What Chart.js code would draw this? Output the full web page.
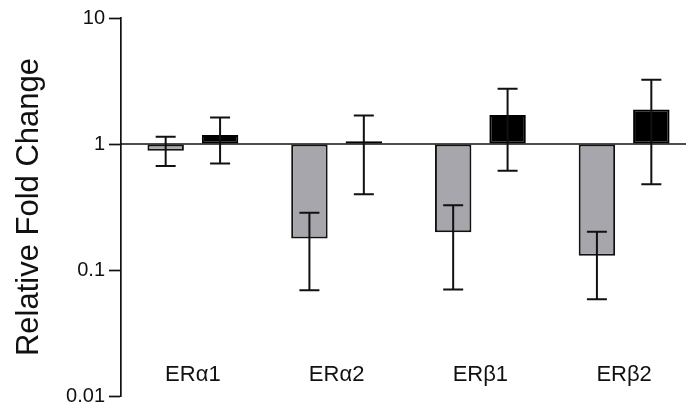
<!DOCTYPE html>
<html>
<head>
<meta charset="utf-8">
<script src="https://cdn.jsdelivr.net/npm/chart.js@4.4.1/dist/chart.umd.min.js"></script>
<style>
  html, body { margin: 0; padding: 0; background: #fff; overflow: hidden; }
  canvas { display: block; }
</style>
</head>
<body>
<canvas id="foldChart" width="696" height="406"></canvas>
<script>
const receptors = ["ERα1", "ERα2", "ERβ1", "ERβ2"];

// grey bars
const greyMean = [0.885, 0.178, 0.199, 0.130];
const greyHigh = [1.14, 0.285, 0.326, 0.201];
const greyLow = [0.668, 0.069, 0.070, 0.0585];

// black bars
const blackMean = [1.18, 1.05, 1.70, 1.88];
const blackHigh = [1.62, 1.68, 2.75, 3.24];
const blackLow = [0.70, 0.40, 0.614, 0.479];

const tickValues = [0.01, 0.1, 1, 10];

const fontFamily = "'Liberation Sans', Arial, Helvetica, sans-serif";

const errorBars = [
    { high: greyHigh, low: greyLow },
    { high: blackHigh, low: blackLow }
];

// line at fold change 1, bars hang from it
const baseLinePlugin = {
    id: "baseLine",
    beforeDatasetsDraw(chart) {
        const { ctx, chartArea, scales } = chart;
        const y = scales.y.getPixelForValue(1);
        ctx.save();
        ctx.strokeStyle = "#111";
        ctx.lineWidth = 1.7;
        ctx.beginPath();
        ctx.moveTo(chartArea.left, y);
        ctx.lineTo(chartArea.right, y);
        ctx.stroke();
        ctx.restore();
    }
};

const errorBarPlugin = {
    id: "errorBars",
    afterDatasetsDraw(chart) {
        const { ctx, scales } = chart;
        ctx.save();
        ctx.strokeStyle = "#111";
        ctx.lineWidth = 2;
        chart.data.datasets.forEach((ds, i) => {
            const meta = chart.getDatasetMeta(i);
            meta.data.forEach((bar, j) => {
                const x = bar.x;
                const yHi = scales.y.getPixelForValue(errorBars[i].high[j]);
                const yLo = scales.y.getPixelForValue(errorBars[i].low[j]);
                const half = 10;
                ctx.beginPath();
                ctx.moveTo(x, yHi);
                ctx.lineTo(x, yLo);
                ctx.moveTo(x - half, yHi);
                ctx.lineTo(x + half, yHi);
                ctx.moveTo(x - half, yLo);
                ctx.lineTo(x + half, yLo);
                ctx.stroke();
            });
        });
        ctx.restore();
    }
};

// category names sit inside the plot, above the 0.01 line
const categoryLabelPlugin = {
    id: "categoryLabels",
    afterDraw(chart) {
        const { ctx, scales } = chart;
        ctx.save();
        ctx.fillStyle = "#111";
        ctx.font = "22px " + fontFamily;
        ctx.textAlign = "center";
        ctx.textBaseline = "alphabetic";
        receptors.forEach((name, i) => {
            ctx.fillText(name, scales.x.getPixelForValue(i), scales.y.bottom - 15);
        });
        ctx.restore();
    }
};

new Chart(document.getElementById("foldChart"), {
    type: "bar",
    data: {
        labels: receptors,
        datasets: [
            {
                data: greyMean,
                base: 1,
                backgroundColor: "#a7a6ac",
                borderColor: "#111",
                borderWidth: 2,
                borderSkipped: false,
                categoryPercentage: 0.757,
                barPercentage: 0.67
            },
            {
                data: blackMean,
                base: 1,
                backgroundColor: "#000",
                borderColor: "#000",
                borderWidth: 2,
                borderSkipped: false,
                categoryPercentage: 0.757,
                barPercentage: 0.67
            }
        ]
    },
    options: {
        responsive: false,
        animation: false,
        devicePixelRatio: 1,
        layout: { padding: { top: 18, bottom: 10, left: 0, right: 0 } },
        plugins: {
            legend: { display: false },
            tooltip: { enabled: false }
        },
        scales: {
            x: {
                display: false
            },
            y: {
                type: "logarithmic",
                min: 0.01,
                max: 10,
                afterBuildTicks: scale => {
                    scale.ticks = tickValues.map(v => ({ value: v }));
                },
                afterFit: scale => {
                    scale.width = 121;
                    scale.paddingTop = 0;
                    scale.paddingBottom = 0;
                },
                border: { display: true, color: "#111", width: 1.7 },
                grid: {
                    drawOnChartArea: false,
                    drawTicks: true,
                    tickLength: 12,
                    tickWidth: 1.7,
                    tickColor: "#111"
                },
                ticks: {
                    padding: 4,
                    color: "#111",
                    font: { family: fontFamily, size: 20, lineHeight: 1 },
                    callback: value => String(value)
                },
                title: {
                    display: true,
                    text: "Relative Fold Change",
                    color: "#111",
                    font: { family: fontFamily, size: 31, lineHeight: 1.2 },
                    padding: { top: 11, bottom: 0 }
                }
            }
        }
    },
    plugins: [baseLinePlugin, errorBarPlugin, categoryLabelPlugin]
});
</script>
</body>
</html>
